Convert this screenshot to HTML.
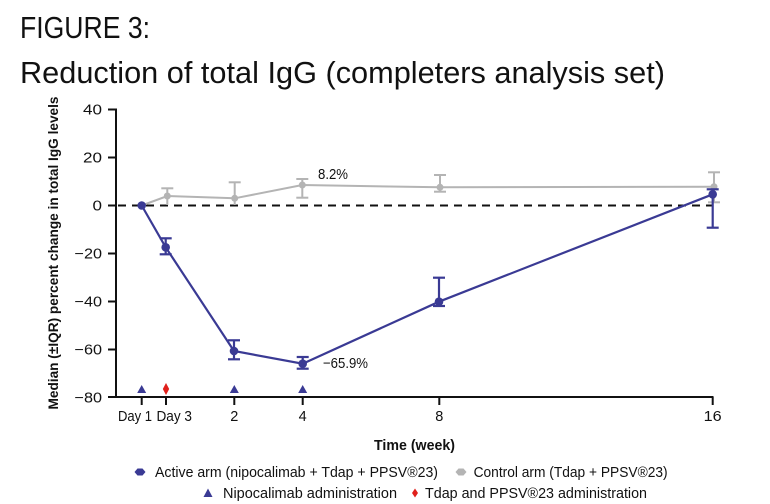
<!DOCTYPE html>
<html>
<head>
<meta charset="utf-8">
<style>
  html,body{margin:0;padding:0;background:#fff;}
  svg{display:block;}
  text{font-family:"Liberation Sans", Arial, sans-serif;}
</style>
</head>
<body>
<svg width="770" height="504" viewBox="0 0 770 504" xmlns="http://www.w3.org/2000/svg">
  <rect x="0" y="0" width="770" height="504" fill="#fff"/>

  <!-- Title -->
  <text x="20" y="38" font-size="31" fill="#111" textLength="130" lengthAdjust="spacingAndGlyphs">FIGURE 3:</text>
  <text x="20" y="83" font-size="30.5" fill="#111" textLength="645" lengthAdjust="spacingAndGlyphs">Reduction of total IgG (completers analysis set)</text>

  <!-- Y axis label -->
  <text transform="translate(58,253) rotate(-90)" text-anchor="middle" font-size="13.5" font-weight="bold" fill="#111" textLength="313" lengthAdjust="spacingAndGlyphs">Median (±IQR) percent change in total IgG levels</text>

  <!-- Axes -->
  <g stroke="#111" stroke-width="2" fill="none">
    <line x1="116" y1="108.5" x2="116" y2="397"/>
    <line x1="108" y1="397" x2="713.5" y2="397"/>
    <line x1="108" y1="109.5" x2="116" y2="109.5"/>
    <line x1="108" y1="157.5" x2="116" y2="157.5"/>
    <line x1="108" y1="205.5" x2="116" y2="205.5"/>
    <line x1="108" y1="253.5" x2="116" y2="253.5"/>
    <line x1="108" y1="301.5" x2="116" y2="301.5"/>
    <line x1="108" y1="349.5" x2="116" y2="349.5"/>
    <line x1="141.7" y1="397" x2="141.7" y2="405"/>
    <line x1="166" y1="397" x2="166" y2="405"/>
    <line x1="234.3" y1="397" x2="234.3" y2="405"/>
    <line x1="302.7" y1="397" x2="302.7" y2="405"/>
    <line x1="439.3" y1="397" x2="439.3" y2="405"/>
    <line x1="712.7" y1="397" x2="712.7" y2="405"/>
  </g>

  <!-- Y tick labels -->
  <g font-size="14.5" fill="#111">
    <text x="83" y="114.5" textLength="19" lengthAdjust="spacingAndGlyphs">40</text>
    <text x="83" y="162.5" textLength="19" lengthAdjust="spacingAndGlyphs">20</text>
    <text x="92.5" y="210.5" textLength="9.5" lengthAdjust="spacingAndGlyphs">0</text>
    <text x="74.5" y="258.5" textLength="27.5" lengthAdjust="spacingAndGlyphs">−20</text>
    <text x="74.5" y="306.5" textLength="27.5" lengthAdjust="spacingAndGlyphs">−40</text>
    <text x="74.5" y="354.5" textLength="27.5" lengthAdjust="spacingAndGlyphs">−60</text>
    <text x="74.5" y="402.5" textLength="27.5" lengthAdjust="spacingAndGlyphs">−80</text>
  </g>

  <!-- X tick labels -->
  <g font-size="14.5" fill="#111">
    <text x="118" y="421" textLength="34" lengthAdjust="spacingAndGlyphs">Day 1</text>
    <text x="156.5" y="421" textLength="35.5" lengthAdjust="spacingAndGlyphs">Day 3</text>
    <text x="234.3" y="421" text-anchor="middle">2</text>
    <text x="302.7" y="421" text-anchor="middle">4</text>
    <text x="439.3" y="421" text-anchor="middle">8</text>
    <text x="703.7" y="421" textLength="18" lengthAdjust="spacingAndGlyphs">16</text>
  </g>
  <text x="374" y="450" font-size="15" font-weight="bold" fill="#111" textLength="81" lengthAdjust="spacingAndGlyphs">Time (week)</text>

  <!-- Dashed zero line -->
  <line x1="118" y1="205.5" x2="712" y2="205.5" stroke="#111" stroke-width="2" stroke-dasharray="8,6"/>

  <!-- Control arm (grey) -->
  <g stroke="#b4b4b4" stroke-width="2" fill="none">
    <polyline points="141.7,205.5 167.3,196 234.7,198.3 302.3,185 440,187.3 714,186.7"/>
    <line x1="167.3" y1="188.3" x2="167.3" y2="205"/>
    <line x1="161.3" y1="188.3" x2="173.3" y2="188.3"/>
    <line x1="234.7" y1="182.3" x2="234.7" y2="205"/>
    <line x1="228.7" y1="182.3" x2="240.7" y2="182.3"/>
    <line x1="302.3" y1="179" x2="302.3" y2="197.7"/>
    <line x1="296.3" y1="179" x2="308.3" y2="179"/>
    <line x1="296.3" y1="197.7" x2="308.3" y2="197.7"/>
    <line x1="440" y1="175" x2="440" y2="191.7"/>
    <line x1="434" y1="175" x2="446" y2="175"/>
    <line x1="434" y1="191.7" x2="446" y2="191.7"/>
    <line x1="714" y1="172.3" x2="714" y2="202.3"/>
    <line x1="708" y1="172.3" x2="720" y2="172.3"/>
    <line x1="708" y1="202.3" x2="720" y2="202.3"/>
  </g>
  <g fill="#b4b4b4">
    <circle cx="167.3" cy="196" r="3.5"/>
    <circle cx="234.7" cy="198.3" r="3.5"/>
    <circle cx="302.3" cy="185" r="3.5"/>
    <circle cx="440" cy="187.3" r="3.5"/>
    <circle cx="714" cy="186.7" r="3.5"/>
  </g>

  <!-- Active arm (navy) -->
  <g stroke="#3a3a94" stroke-width="2.2" fill="none">
    <polyline points="141.7,205.5 165.7,247.3 234,351 302.7,363.7 439,301.7 712.7,194.3"/>
    <line x1="165.7" y1="238.3" x2="165.7" y2="254.3"/>
    <line x1="159.7" y1="238.3" x2="171.7" y2="238.3"/>
    <line x1="159.7" y1="254.3" x2="171.7" y2="254.3"/>
    <line x1="234" y1="340.3" x2="234" y2="359.3"/>
    <line x1="228" y1="340.3" x2="240" y2="340.3"/>
    <line x1="228" y1="359.3" x2="240" y2="359.3"/>
    <line x1="302.7" y1="357" x2="302.7" y2="368.7"/>
    <line x1="296.7" y1="357" x2="308.7" y2="357"/>
    <line x1="296.7" y1="368.7" x2="308.7" y2="368.7"/>
    <line x1="439" y1="277.7" x2="439" y2="306"/>
    <line x1="433" y1="277.7" x2="445" y2="277.7"/>
    <line x1="433" y1="306" x2="445" y2="306"/>
    <line x1="712.7" y1="189.3" x2="712.7" y2="227.7"/>
    <line x1="706.7" y1="189.3" x2="718.7" y2="189.3"/>
    <line x1="706.7" y1="227.7" x2="718.7" y2="227.7"/>
  </g>
  <g fill="#3a3a94">
    <circle cx="141.7" cy="205.5" r="4.3"/>
    <circle cx="165.7" cy="247.3" r="4.3"/>
    <circle cx="234" cy="351" r="4.3"/>
    <circle cx="302.7" cy="363.7" r="4.3"/>
    <circle cx="439" cy="301.7" r="4.3"/>
    <circle cx="712.7" cy="194.3" r="4.3"/>
  </g>

  <!-- Annotations -->
  <text x="318" y="179" font-size="14.5" fill="#111" textLength="30" lengthAdjust="spacingAndGlyphs">8.2%</text>
  <text x="323" y="368" font-size="14.5" fill="#111" textLength="45" lengthAdjust="spacingAndGlyphs">−65.9%</text>

  <!-- Administration markers -->
  <g fill="#3a3a94">
    <polygon points="137.2,393 146.2,393 141.7,385"/>
    <polygon points="229.8,393 238.8,393 234.3,385"/>
    <polygon points="298.2,393 307.2,393 302.7,385"/>
  </g>
  <polygon points="166,383 169.2,389 166,395 162.8,389" fill="#e0201b"/>

  <!-- Legend -->
  <polygon points="134.5,472 137.5,468.5 142.5,468.5 145.5,472 142.5,475.5 137.5,475.5" fill="#3a3a94"/>
  <text x="155" y="477" font-size="14.5" fill="#111" textLength="283" lengthAdjust="spacingAndGlyphs">Active arm (nipocalimab + Tdap + PPSV®23)</text>
  <polygon points="455.5,472 458.5,468.5 463.5,468.5 466.5,472 463.5,475.5 458.5,475.5" fill="#b4b4b4"/>
  <text x="473.6" y="477" font-size="14.5" fill="#111" textLength="194" lengthAdjust="spacingAndGlyphs">Control arm (Tdap + PPSV®23)</text>

  <polygon points="203.5,497 212.5,497 208,488.5" fill="#3a3a94"/>
  <text x="223" y="498" font-size="14.5" fill="#111" textLength="174" lengthAdjust="spacingAndGlyphs">Nipocalimab administration</text>
  <polygon points="415,488.5 418,493 415,497.5 412,493" fill="#e0201b"/>
  <text x="425" y="498" font-size="14.5" fill="#111" textLength="222" lengthAdjust="spacingAndGlyphs">Tdap and PPSV®23 administration</text>
</svg>
</body>
</html>
